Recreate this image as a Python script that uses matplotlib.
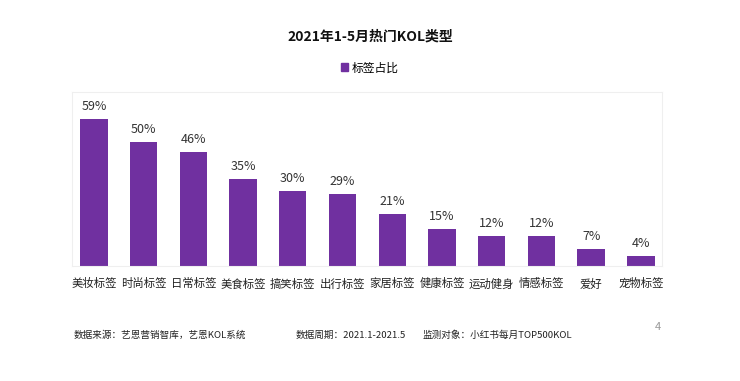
#!/usr/bin/env python3
"""2021年1-5月热门KOL类型 - bar chart"""

import matplotlib
matplotlib.use('Agg')
import matplotlib.pyplot as plt
from matplotlib.patches import Patch

plt.rcParams['font.family'] = ['Noto Sans CJK SC', 'DejaVu Sans']

# Data
categories = ['美妆标签', '时尚标签', '日常标签', '美食标签', '搞笑标签', '出行标签',
              '家居标签', '健康标签', '运动健身', '情感标签', '爱好', '宠物标签']
shares = [59, 50, 46, 35, 30, 29, 21, 15, 12, 12, 7, 4]
series_name = '标签占比'

BAR_COLOR = '#7030A0'

fig = plt.figure(figsize=(7.4, 3.81), dpi=100)
ax = fig.add_axes([0.0973, 0.302, 0.797, 0.457])

x = range(len(categories))
bars = ax.bar(x, shares, width=0.55, color=BAR_COLOR)
for xi, v in zip(x, shares):
    ax.text(xi, v + 2.4, f'{v}%', ha='center', va='bottom', fontsize=9, color='#333333')

ax.set_xlim(-0.44, len(categories) - 1 + 0.42)
ax.set_ylim(0, 70)
ax.set_yticks([])
ax.set_xticks(list(x))
ax.set_xticklabels(categories, fontsize=8.2, color='#222222')
ax.tick_params(axis='x', length=0, pad=9)
for s in ax.spines.values():
    s.set_color('#EFEFEF')
    s.set_linewidth(0.8)

# Title and legend
fig.text(0.5, 0.903, '2021年1-5月热门KOL类型', ha='center', va='center',
         fontsize=10, fontweight='bold', color='#111111')
fig.legend(handles=[Patch(color=BAR_COLOR, label=series_name)], loc='center',
           bbox_to_anchor=(0.5, 0.822), frameon=False, fontsize=8.5,
           handlelength=0.6, handleheight=0.6, handletextpad=0.3)

# Footer
fig.text(0.099, 0.12, '数据来源：艺恩营销智库，艺恩KOL系统', fontsize=6.9, color='#222222', va='center')
fig.text(0.399, 0.12, '数据周期：2021.1-2021.5', fontsize=6.9, color='#222222', va='center')
fig.text(0.571, 0.12, '监测对象：小红书每月TOP500KOL', fontsize=6.9, color='#222222', va='center')
fig.text(0.889, 0.142, '4', fontsize=8, color='#999999', va='center', ha='center')

fig.savefig('out.png', dpi=100, facecolor='white')
plt.close(fig)
